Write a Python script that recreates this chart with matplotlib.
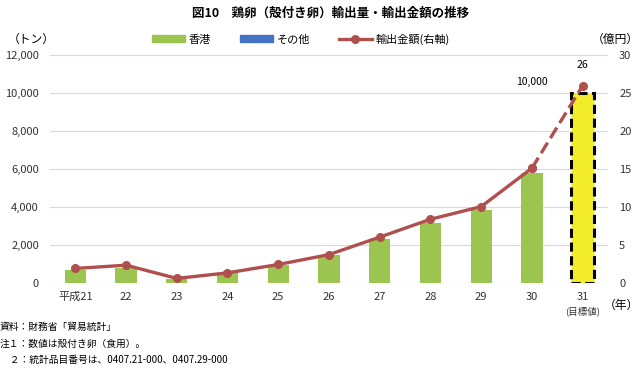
import matplotlib.pyplot as plt
import numpy as np

plt.rcParams['font.family'] = ['Noto Sans CJK JP', 'DejaVu Sans']

# data
years = ["平成21", "22", "23", "24", "25", "26", "27", "28", "29", "30", "31"]
hongkong = [680, 800, 250, 550, 950, 1480, 2310, 3190, 3860, 5810, 10000]
others = [0, 0, 0, 0, 0, 0, 0, 0, 0, 0, 0]
export_value = [1.96, 2.39, 0.65, 1.38, 2.48, 3.78, 6.08, 8.43, 10.09, 15.14, 26]

green = '#9bc550'
blue = '#4472c4'
red = '#b0504e'
yellow = '#f3ec2a'

fig = plt.figure(figsize=(6.4, 3.68), dpi=100)
ax = fig.add_axes([0.078, 0.230, 0.872, 0.620])
ax2 = ax.twinx()

x = np.arange(len(years))
w = 0.42

# bars (last one is the target value)
ax.bar(x[:-1], hongkong[:-1], w, color=green, zorder=2)
ax.bar(x[:-1], others[:-1], w, bottom=hongkong[:-1], color=blue, zorder=2)
ax.bar(x[-1], hongkong[-1], 0.45, color=yellow, edgecolor='black',
       linestyle=(0, (3, 1.5)), linewidth=2.2, zorder=2)

# export value line
ax2.plot(x[:-1], export_value[:-1], '-o', color=red, lw=2.4, ms=5.5, zorder=3)
ax2.plot(x[-2:], export_value[-2:], '--o', color=red, lw=2.4, ms=5.5, zorder=3)

ax.set_xlim(-0.5, 10.5)
ax.set_ylim(0, 12000)
ax2.set_ylim(0, 30)
ax.set_yticks(np.arange(0, 12001, 2000))
ax.set_yticklabels(['{:,}'.format(v) for v in range(0, 12001, 2000)])
ax2.set_yticks(np.arange(0, 31, 5))
ax.set_xticks(x)
ax.set_xticklabels(years)

ax.grid(axis='y', color='#d9d9d9', lw=0.8, zorder=0)
ax.set_axisbelow(True)
for a in (ax, ax2):
    for s in a.spines.values():
        s.set_visible(False)
    a.tick_params(length=0, labelsize=8, colors='#333333')
ax.tick_params(axis='y', pad=8)
ax2.tick_params(axis='y', pad=8)
ax.tick_params(axis='x', pad=6)

# target year note under tick label
ax.text(10, -1230, "(目標値)", ha='center', va='top', fontsize=6.8, color='#333333')

# data labels
ax.text(9, 10350, "10,000", ha='center', va='bottom', fontsize=7.5)
ax2.text(10, 28.0, "26", ha='center', va='bottom', fontsize=7.5)

# title, units, legend
fig.text(0.516, 0.965, "図10　鶏卵（殻付き卵）輸出量・輸出金額の推移", ha='center', va='center',
         fontsize=9, fontweight='bold')
fig.text(0.012, 0.893, "（トン）", ha='left', va='center', fontsize=8.5)
fig.text(0.998, 0.893, "（億円）", ha='right', va='center', fontsize=8.5)
fig.text(0.998, 0.17, "（年）", ha='right', va='center', fontsize=8.5)

from matplotlib.patches import Patch
from matplotlib.lines import Line2D
handles = [Patch(color=green), Patch(color=blue),
           Line2D([0], [0], color=red, lw=2.4, marker='o', ms=5.5)]
fig.legend(handles, ["香港", "その他", "輸出金額(右軸)"], loc='center',
           bbox_to_anchor=(0.47, 0.893), ncol=3, frameon=False, fontsize=8,
           handlelength=3.0, handleheight=0.6, columnspacing=2.6, handletextpad=0.3)

# notes
notes = ["資料：財務省「貿易統計」",
         "注１：数値は殻付き卵（食用）。",
         "　２：統計品目番号は、0407.21-000、0407.29-000"]
for i, n in enumerate(notes):
    fig.text(0.0, 0.112 - i * 0.045, n, ha='left', va='center', fontsize=7)

plt.savefig("out.png", dpi=100)
